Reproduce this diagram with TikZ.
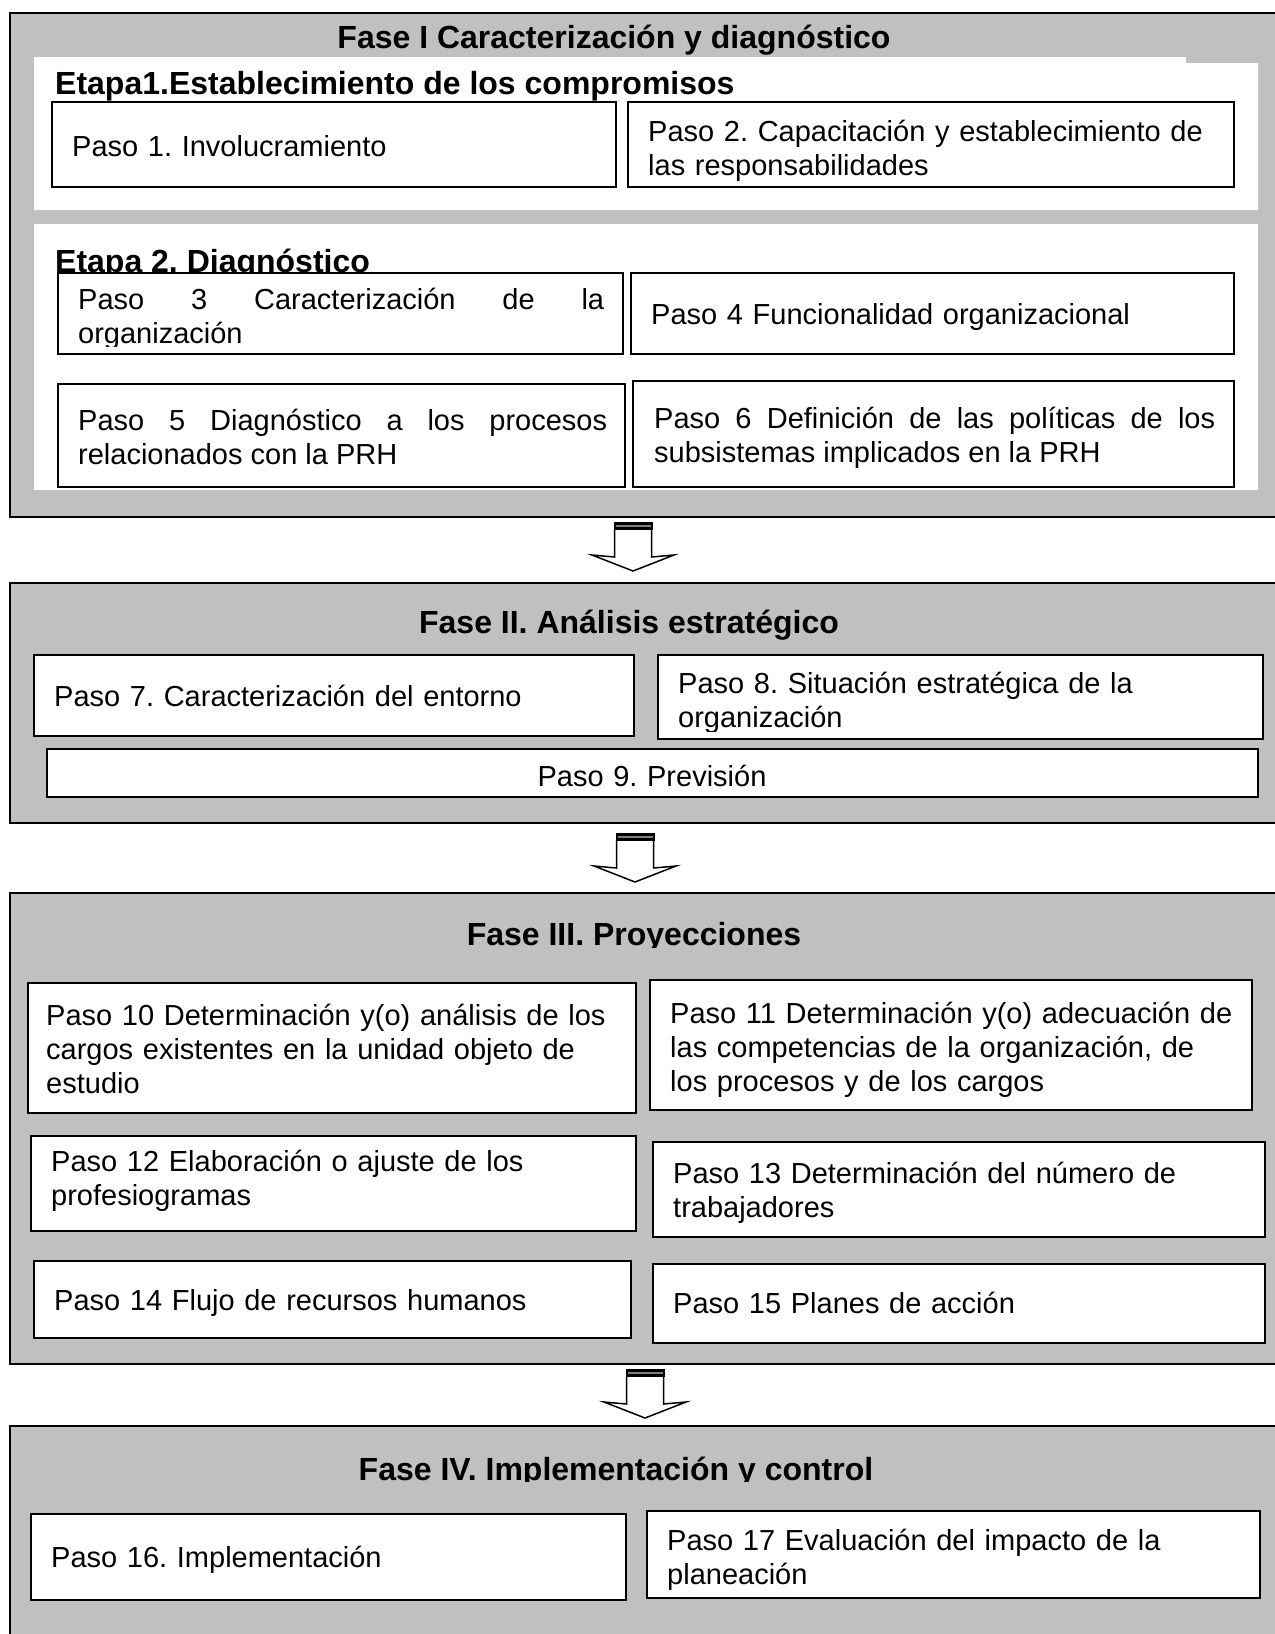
\documentclass[tikz,border=0pt]{standalone}
\usepackage{fontspec}
\setmainfont{Liberation Sans}
\usetikzlibrary{fit}
\definecolor{phasegray}{HTML}{C0C0C0}
\hyphenpenalty=10000
\exhyphenpenalty=10000
\frenchspacing
\tikzset{
  phasebox/.style={draw=black, line width=2pt, fill=phasegray, inner sep=0pt},
  stepbox/.style={draw=black, line width=1.8pt, fill=white, inner sep=0pt},
  steptext/.style={inner sep=0pt, anchor=base west, align=left, text width=580pt,
    font={\fontsize{29}{34}\selectfont\frenchspacing}},
  steptextj/.style={steptext, align=justify},
  titletext/.style={inner sep=0pt, anchor=base, font={\fontsize{32}{36}\selectfont\bfseries\frenchspacing}},
  etapatext/.style={inner sep=0pt, anchor=base west, font={\fontsize{32}{36}\selectfont\bfseries\frenchspacing}},
  phasearrow/.pic={
    \draw[line width=1.5pt, fill=white, line join=miter]
      (-18.5,7) -- (-18.5,35) -- (-41,33) -- (0,49) -- (41,33) -- (18.5,35) -- (18.5,7);
    \fill[black] (-19.5,0) rectangle (19.5,8);
    \draw[gray, line width=2pt] (-17.5,4) -- (17.5,4);
  }
}
\begin{document}
\begin{tikzpicture}[x=1pt,y=-1pt]
\path[use as bounding box] (0,0) rectangle (1275,1634);
\clip (0,0) rectangle (1275,1634);

% ---------- phase frames ----------
\node[phasebox, fit={(10,13) (1300,517)}] (f1) {};
\node[phasebox, fit={(10,583) (1300,823)}] (f2) {};
\node[phasebox, fit={(10,893) (1300,1364)}] (f3) {};
\node[phasebox, fit={(10,1426) (1300,1660)}] (f4) {};

% ---------- Fase I ----------
\fill[white] (34,57) -- (1186,57) -- (1186,63) -- (1258,63) -- (1258,210) -- (34,210) -- cycle;
\fill[white] (34,224) rectangle (1258,490);

\node[titletext] (t1) at (614,48) {Fase I Caracterización y diagnóstico};
\node[etapatext] (e1) at (55,94) {Etapa1.Establecimiento de los compromisos};

\node[stepbox, fit={(52,102) (616,187)}] (p1) {};
\node[steptext] (p1t) at (72,156) {Paso 1. Involucramiento};
\node[stepbox, fit={(628,102) (1234,187)}] (p2) {};
\node[steptext] (p2t) at (648,141) {Paso 2. Capacitación y establecimiento de\\las responsabilidades};

\node[etapatext] (e2) at (55,272) {Etapa 2. Diagnóstico};
\node[stepbox, fit={(58,273) (623,354)}] (p3) {};
\begin{scope}
  \clip (60,275) rectangle (621,346);
  \node[steptextj, text width=526pt] (p3t) at (78,309) {Paso 3 Caracterización de la\linebreak organización};
\end{scope}
\node[stepbox, fit={(631,273) (1234,354)}] (p4) {};
\node[steptext] (p4t) at (651,324) {Paso 4 Funcionalidad organizacional};
\node[stepbox, fit={(58,384) (625,487)}] (p5) {};
\node[steptextj, text width=529pt] (p5t) at (78,430) {Paso 5 Diagnóstico a los procesos\linebreak relacionados con la PRH};
\node[stepbox, fit={(633,381) (1234,487)}] (p6) {};
\node[steptextj, text width=561pt] (p6t) at (654,428) {Paso 6 Definición de las políticas de los\linebreak subsistemas implicados en la PRH};

\pic (a1) at (633,522) {phasearrow};

% ---------- Fase II ----------
\node[titletext] (t2) at (629,633) {Fase II. Análisis estratégico};
\node[stepbox, fit={(34,655) (634,736)}] (p7) {};
\node[steptext] (p7t) at (54,706) {Paso 7. Caracterización del entorno};
\node[stepbox, fit={(658,655) (1263,739)}] (p8) {};
\begin{scope}
  \clip (660,657) rectangle (1261,731);
  \node[steptext] (p8t) at (678,693) {Paso 8. Situación estratégica de la\\organización};
\end{scope}
\node[stepbox, fit={(47,749) (1258,797)}] (p9) {};
\node[steptext, anchor=base, align=center, text width=600pt] (p9t) at (652,786) {Paso 9. Previsión};

\pic (a2) at (635,833) {phasearrow};

% ---------- Fase III ----------
\begin{scope}
  \clip (20,895) rectangle (1270,947);
  \node[titletext] (t3) at (634,945) {Fase III. Proyecciones};
\end{scope}
\node[stepbox, fit={(28,983) (636,1113)}] (p10) {};
\node[steptext] (p10t) at (46,1025) {Paso 10 Determinación y(o) análisis de los\\cargos existentes en la unidad objeto de\\estudio};
\node[stepbox, fit={(650,980) (1252,1110)}] (p11) {};
\node[steptext] (p11t) at (670,1023) {Paso 11 Determinación y(o) adecuación de\\las competencias de la organización, de\\los procesos y de los cargos};
\node[stepbox, fit={(31,1136) (636,1231)}] (p12) {};
\node[steptext] (p12t) at (51,1171) {Paso 12 Elaboración o ajuste de los\\profesiogramas};
\node[stepbox, fit={(653,1142) (1265,1237)}] (p13) {};
\node[steptext] (p13t) at (673,1183) {Paso 13 Determinación del número de\\trabajadores};
\node[stepbox, fit={(34,1261) (631,1338)}] (p14) {};
\node[steptext] (p14t) at (54,1310) {Paso 14 Flujo de recursos humanos};
\node[stepbox, fit={(653,1264) (1265,1343)}] (p15) {};
\node[steptext] (p15t) at (673,1313) {Paso 15 Planes de acción};

\pic (a3) at (645,1369) {phasearrow};

% ---------- Fase IV ----------
\begin{scope}
  \clip (20,1428) rectangle (1270,1481);
  \node[titletext] (t4) at (616,1480) {Fase IV. Implementación y control};
\end{scope}
\node[stepbox, fit={(31,1514) (626,1600)}] (p16) {};
\node[steptext] (p16t) at (51,1567) {Paso 16. Implementación};
\node[stepbox, fit={(647,1511) (1260,1598)}] (p17) {};
\node[steptext] (p17t) at (667,1550) {Paso 17 Evaluación del impacto de la\\planeación};
\end{tikzpicture}
\end{document}
